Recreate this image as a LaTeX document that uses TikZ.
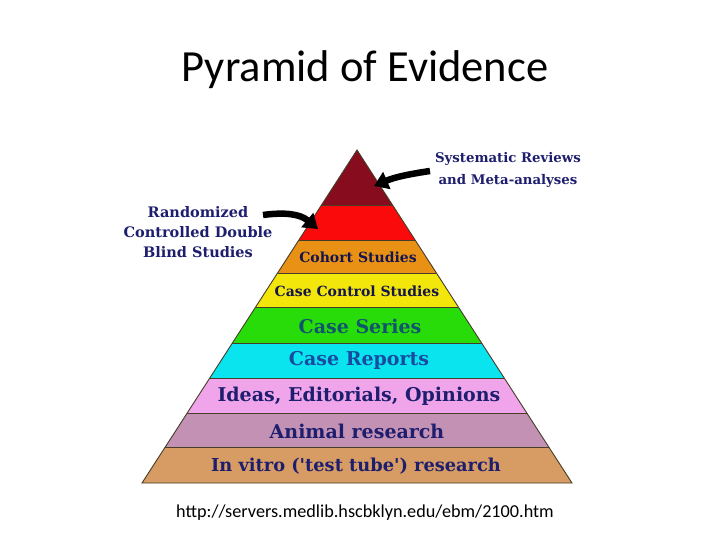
\documentclass[tikz,border=0pt]{standalone}
\usepackage{fontspec}
\setmainfont{DejaVu Serif}
\newfontfamily\calfont{Carlito}
\usetikzlibrary{arrows.meta}
\definecolor{cTop}{RGB}{135,12,30}
\definecolor{cRed}{RGB}{250,10,10}
\definecolor{cOrange}{RGB}{232,145,20}
\definecolor{cYellow}{RGB}{242,230,10}
\definecolor{cGreen}{RGB}{40,220,10}
\definecolor{cCyan}{RGB}{10,228,238}
\definecolor{cPink}{RGB}{240,165,235}
\definecolor{cMauve}{RGB}{195,145,180}
\definecolor{cTan}{RGB}{215,155,100}
\definecolor{navy}{RGB}{30,30,110}
\definecolor{teal}{RGB}{15,85,110}
\definecolor{blueT}{RGB}{25,75,160}
\definecolor{edge}{RGB}{70,60,40}
\newcommand{\sq}{\XeTeXglyph\XeTeXglyphindex "quotesingle"\relax}
\tikzset{
  lbl/.style={font=\bfseries\fontsize{14.5}{20}\selectfont, text=navy, align=center, inner sep=0pt},
  small/.style={font=\bfseries\fontsize{14}{16}\selectfont, text=navy!70!black, inner sep=0pt},
  big/.style={font=\bfseries\fontsize{19}{22}\selectfont, text=navy, inner sep=0pt},
  bigarrow/.style={line width=6.5pt, -{Triangle[length=14pt,width=18pt]}, black},
}
\begin{document}
\begin{tikzpicture}[x=1pt,y=-1pt]
\useasboundingbox (0,0) rectangle (728,546);
\fill[white] (0,0) rectangle (728,546);
% bands
\foreach \ya/\yb/\col in {150/205/cTop,205/240/cRed,240/273/cOrange,273/307/cYellow,307/343/cGreen,343/378/cCyan,378/413/cPink,413/447/cMauve,447/483/cTan}{
  \fill[\col] ({357-0.6456*(\ya-150)},\ya) -- ({357+0.6456*(\ya-150)},\ya) -- ({357+0.6456*(\yb-150)},\yb) -- ({357-0.6456*(\yb-150)},\yb) -- cycle;
}
\foreach \y in {205,240,273,307,343,378,413,447}{
  \draw[edge, line width=0.8pt] ({357-0.6456*(\y-150)},\y) -- ({357+0.6456*(\y-150)},\y);
}
\draw[edge, line width=0.9pt] (357,150) -- (142,483) -- (572,483) -- cycle;
% title and source
\node[font=\calfont\fontsize{44.5}{48}\selectfont, inner sep=0pt] (title) at (365,70) {Pyramid of Evidence};
\node[font=\calfont\fontsize{18.2}{20}\selectfont, inner sep=0pt] (src) at (365,513) {http://servers.medlib.hscbklyn.edu/ebm/2100.htm};
% band texts
\node[small] (cohort) at (358,257) {Cohort Studies};
\node[small] (casecontrol) at (357,291) {Case Control Studies};
\node[big, text=teal] (series) at (360,326) {Case Series};
\node[big, text=blueT] (reports) at (359,360) {Case Reports};
\node[big] (ideas) at (359,396) {Ideas, Editorials, Opinions};
\node[big] (animal) at (357,431) {Animal research};
\node[big, font=\bfseries\fontsize{17.8}{22}\selectfont] (vitro) at (356,466) {In vitro (\sq test tube\sq) research};
% side labels
\node[lbl] (rct) at (198,232) {Randomized\\Controlled Double\\Blind Studies};
\node[lbl, font=\bfseries\fontsize{13.3}{22}\selectfont] (sr) at (508,170) {Systematic Reviews\\and Meta-analyses};
\coordinate (rctpt) at (318,229);
\coordinate (srpt) at (374,186);
\draw[bigarrow] (263,215) .. controls (285,212) and (300,214) .. (rctpt);
\draw[bigarrow] (430,171) .. controls (410,174) and (395,177) .. (srpt);
\end{tikzpicture}
\end{document}
